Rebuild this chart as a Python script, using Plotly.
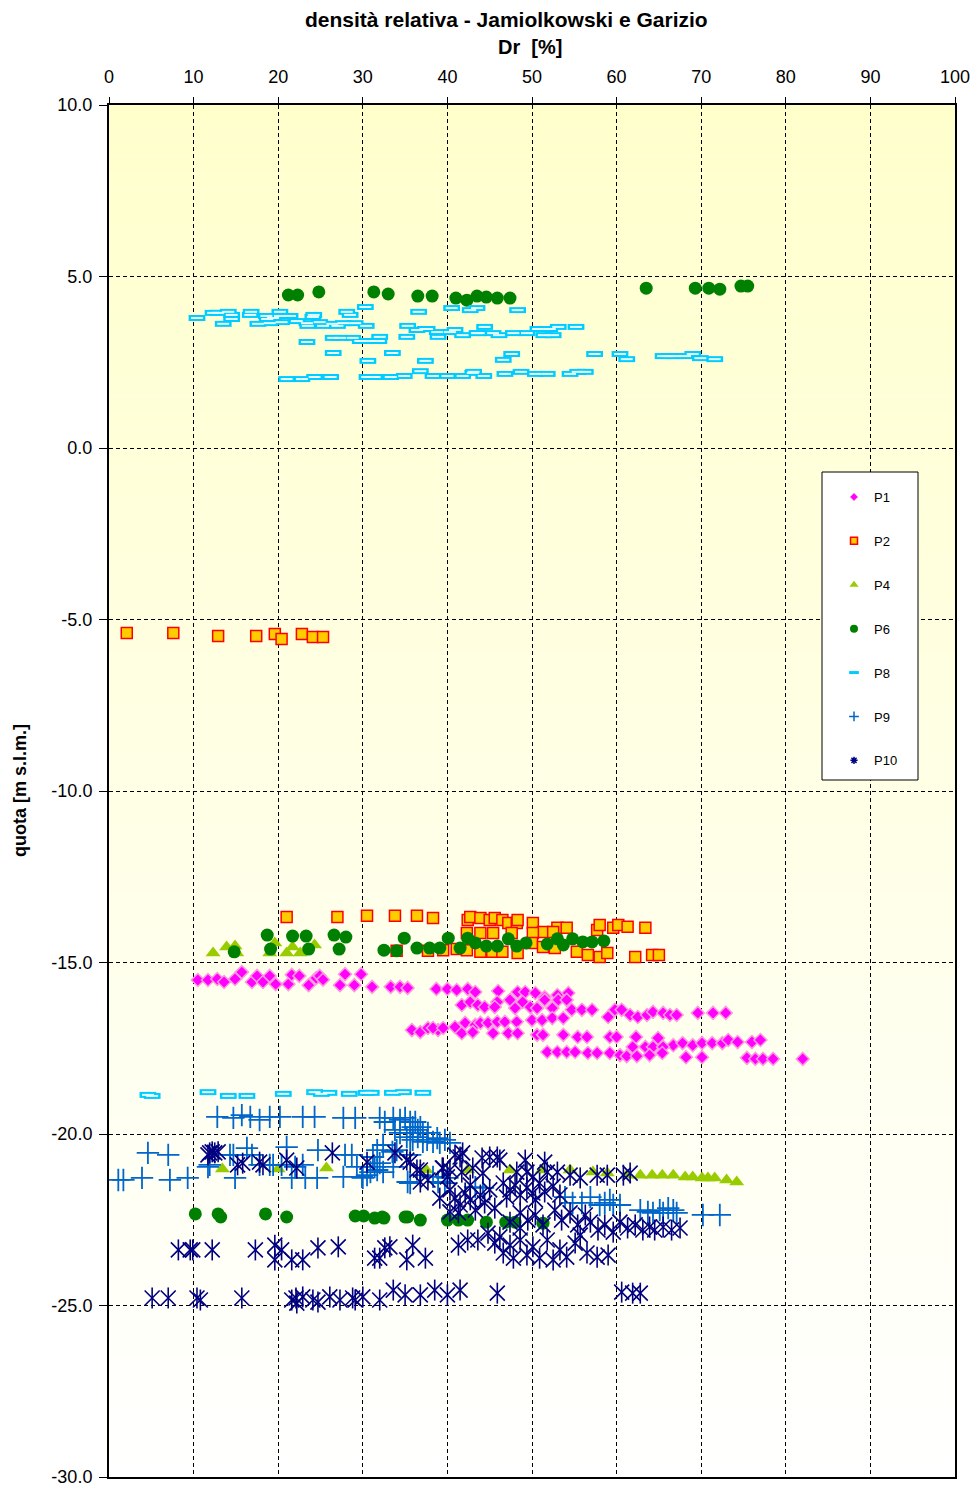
import plotly.graph_objects as go

# ---------------- DATA (Dr [%], quota [m s.l.m.]) ----------------
P1_x = [10.5, 11.7, 12.8, 13.6, 14.9, 15.7, 16.9, 17.5, 18.2, 19.0, 19.7, 21.2, 21.6, 22.5, 23.6, 24.5, 24.9, 25.3,
        27.3, 27.9, 29.0, 29.8, 31.1, 33.3, 34.4, 35.3, 38.7, 40.0, 41.1, 42.4, 43.3, 46.0, 48.3, 49.2, 50.4, 51.5,
        53.0, 54.3,
        41.7, 42.7, 43.6, 44.4, 45.9, 45.6, 47.4, 48.0, 48.9, 49.8, 50.6, 51.5, 52.4, 53.1, 54.1, 54.7, 55.9, 57.1,
        59.0, 59.8, 60.6, 61.6, 62.5, 63.6, 64.3, 65.5, 66.3, 67.1, 69.6, 71.4, 72.9,
        35.8, 36.8, 37.7, 38.9, 38.3, 39.5, 40.9, 42.1, 43.3, 43.9, 44.8, 45.9, 46.8, 48.2, 50.0, 51.2, 52.4, 53.7,
        41.7, 43.0, 45.4, 47.2, 48.3, 50.6, 51.3, 53.7, 55.4, 56.5,
        59.2, 60.0, 62.3, 64.9, 66.7, 67.8, 69.0, 70.1, 71.3, 72.5, 73.2, 74.3, 76.0, 77.0, 61.9, 63.4, 64.3, 65.5,
        51.8, 53.0, 54.1, 55.1, 56.6, 57.7, 59.2, 60.4, 61.2, 62.4, 63.9, 65.4, 68.2, 70.1, 75.4, 76.4, 77.3, 78.5,
        82.0]
P1_y = [-15.51, -15.51, -15.48, -15.57, -15.48, -15.28, -15.57, -15.39, -15.57, -15.39, -15.63, -15.63, -15.36,
        -15.39, -15.66, -15.45, -15.39, -15.50,
        -15.66, -15.34, -15.66, -15.34, -15.71, -15.71, -15.71, -15.74, -15.77, -15.77, -15.80, -15.77, -15.86,
        -15.83, -15.86, -15.86, -15.89, -16.01, -15.95, -15.89,
        -16.24, -16.15, -16.24, -16.30, -16.15, -16.30, -16.09, -16.33, -16.15, -16.30, -16.33, -16.09, -16.33,
        -16.09, -16.09, -16.38, -16.38, -16.38,
        -16.59, -16.38, -16.38, -16.53, -16.59, -16.53, -16.44, -16.47, -16.53, -16.53, -16.47, -16.47, -16.47,
        -16.97, -17.03, -16.91, -16.97, -16.91, -16.91, -16.88, -16.76, -16.82, -16.76, -16.76, -16.73, -16.73,
        -16.73, -16.68, -16.68, -16.62, -16.62,
        -17.06, -17.03, -17.06, -17.06, -17.06, -17.11, -17.11, -17.11, -17.17, -17.17,
        -17.17, -17.17, -17.17, -17.20, -17.41, -17.35, -17.41, -17.35, -17.35, -17.35, -17.26, -17.32, -17.32,
        -17.26, -17.46, -17.46, -17.46, -17.46,
        -17.61, -17.61, -17.61, -17.61, -17.64, -17.64, -17.64, -17.70, -17.73, -17.73, -17.70, -17.64, -17.76,
        -17.76, -17.78, -17.81, -17.81, -17.81, -17.81]

P2_x = [2.1, 7.6, 12.9, 17.4, 19.6, 20.4, 22.8, 24.1, 25.3,
        21.0, 27.0, 30.5, 33.8, 36.4, 38.3, 34.0, 37.7, 39.5, 42.4, 42.7, 43.9, 45.0, 45.6, 46.5, 47.2, 48.2,
        48.3, 50.1, 51.3, 53.0, 54.1, 52.5, 50.1, 47.6, 45.4, 43.9, 42.3, 41.1, 42.3, 43.9, 45.3, 46.5, 48.3,
        50.0, 51.3, 52.7, 55.3, 56.6, 58.0, 58.9, 57.7, 58.0, 59.6, 60.2, 61.3, 63.4, 62.2, 64.2, 65.0]
P2_y = [-5.39, -5.39, -5.48, -5.48, -5.42, -5.57, -5.42, -5.51, -5.51,
        -13.67, -13.67, -13.64, -13.64, -13.64, -13.70, -14.66, -14.66, -14.64, -13.76, -13.67, -13.70, -13.76,
        -13.70, -13.76, -13.85, -13.85, -13.76, -13.85, -14.11, -13.99, -13.99, -14.11, -14.14, -14.14, -14.14,
        -14.14, -14.14, -14.61, -14.64, -14.69, -14.69, -14.69, -14.72, -14.43, -14.55, -14.58, -14.69, -14.78,
        -14.84, -14.72, -14.05, -13.91, -13.99, -13.91, -13.96, -13.99, -14.84, -14.78, -14.78]

P4_x = [12.3, 13.9, 14.9, 15.1, 19.0, 19.6, 21.0, 21.7, 22.6, 24.3,
        13.4, 20.0, 25.7, 37.5, 42.4, 47.4, 51.2, 54.5, 57.2, 58.9, 61.2, 62.8, 64.2, 65.4, 66.7, 68.1, 69.0,
        70.1, 70.8, 71.6, 73.0, 74.2]
P4_y = [-14.72, -14.55, -14.52, -14.72, -14.72, -14.43, -14.72, -14.55, -14.72, -14.49,
        -21.02, -21.02, -20.99, -21.05, -21.05, -21.05, -21.05, -21.05, -21.11, -21.14, -21.20, -21.20, -21.20,
        -21.20, -21.20, -21.25, -21.25, -21.28, -21.28, -21.28, -21.34, -21.40]

P6_x = [21.2, 22.3, 24.8, 31.3, 33.0, 36.5, 38.2, 41.0, 42.3, 43.5, 44.6, 45.9, 47.4, 63.5, 69.3, 70.9, 72.2,
        74.7, 75.5,
        18.7, 19.1, 14.8, 21.7, 23.3, 23.6, 26.6, 28.0, 27.2, 32.5, 34.0, 34.9, 36.4, 37.9, 39.1, 40.1, 41.5,
        42.4, 43.3, 44.6, 45.9, 47.2, 48.2, 49.3, 51.8, 53.0, 53.7, 54.8, 56.0, 57.1, 58.5,
        10.2, 12.9, 13.2, 18.5, 21.0, 29.1, 30.1, 31.4, 32.3, 32.5, 35.0, 35.3, 36.8, 40.0, 41.3, 42.4, 44.6,
        46.9, 48.0, 51.3]
P6_y = [4.46, 4.46, 4.55, 4.55, 4.49, 4.43, 4.43, 4.37, 4.31, 4.43, 4.40, 4.37, 4.37, 4.66, 4.66, 4.66, 4.63,
        4.72, 4.72,
        -14.20, -14.61, -14.69, -14.23, -14.23, -14.61, -14.20, -14.26, -14.61, -14.64, -14.66, -14.29, -14.58,
        -14.58, -14.58, -14.29, -14.58, -14.29, -14.43, -14.52, -14.52, -14.31, -14.52, -14.43, -14.46, -14.31,
        -14.49, -14.31, -14.40, -14.40, -14.37,
        -22.33, -22.33, -22.42, -22.33, -22.42, -22.39, -22.39, -22.45, -22.42, -22.45, -22.42, -22.42, -22.51,
        -22.51, -22.51, -22.51, -22.57, -22.57, -22.57, -22.60]

P8_x = [10.4, 12.3, 12.9, 14.1, 14.5, 14.5, 13.5, 16.8, 16.7, 17.6, 18.6, 18.7, 19.0, 19.4, 20.2, 20.2, 20.4,
        21.4, 22.2, 23.4, 23.5, 24.2, 24.1, 24.9, 25.3, 26.4, 27.0, 26.5, 27.3, 28.1, 28.5, 27.7, 29.1, 30.3,
        30.4, 23.4, 26.5, 28.8, 29.7, 30.6, 32.0, 31.9, 30.6, 33.5, 35.2, 35.3, 36.6, 36.4, 37.4, 36.8, 21.0,
        22.8, 24.3, 26.2, 30.5, 31.4, 33.3, 34.9,
        40.5, 42.7, 43.5, 41.8, 43.5, 37.6, 38.8, 40.3, 38.9, 37.4, 38.3, 40.0, 41.8, 43.0,
        48.3, 40.9, 43.7, 44.4, 45.4, 46.1, 47.8, 49.4, 50.7, 51.4, 52.1, 52.5, 53.1, 55.2, 47.6, 46.6, 57.4,
        60.4, 61.2, 65.5, 66.2, 66.9, 68.1, 69.0, 69.9, 71.6, 43.1, 44.3, 46.8, 48.7, 50.4, 51.8, 54.5, 55.4,
        56.3,
        4.6, 5.1, 11.7, 14.1, 16.3, 20.6, 24.3, 25.1, 26.0, 28.4, 30.4, 31.0, 33.5, 34.8, 37.1]
P8_y = [3.79, 3.94, 3.94, 3.97, 3.88, 3.76, 3.62, 3.97, 3.88, 3.62, 3.85, 3.76, 3.64, 3.79, 3.97, 3.85, 3.67,
        3.85, 3.70, 3.64, 3.56, 3.88, 3.82, 3.67, 3.56, 3.62, 3.56, 3.21, 3.21, 3.97, 3.88, 3.64, 3.64, 4.11,
        3.56, 3.09, 2.77, 3.21, 3.12, 3.12, 3.24, 3.12, 2.54, 2.77, 3.24, 3.56, 3.97, 3.44, 3.47, 2.24, 2.01,
        2.01, 2.07, 2.07, 2.07, 2.07, 2.07, 2.10,
        4.08, 4.02, 4.08, 3.29, 3.35, 3.47, 3.38, 3.38, 3.24, 2.54, 2.10, 2.10, 2.10, 2.19,
        4.02, 3.44, 3.35, 3.53, 3.35, 3.29, 3.35, 3.35, 3.47, 3.29, 3.47, 3.29, 3.53, 3.53, 2.74, 2.57, 2.74,
        2.74, 2.59, 2.68, 2.68, 2.68, 2.68, 2.74, 2.62, 2.59, 2.22, 2.10, 2.16, 2.22, 2.16, 2.16, 2.16, 2.22,
        2.22,
        -18.86, -18.89, -18.78, -18.89, -18.89, -18.83, -18.78, -18.83, -18.80, -18.83, -18.80, -18.80, -18.80,
        -18.78, -18.80]

P9_x = [12.8, 14.7, 15.7, 16.7, 17.8, 19.0, 20.2, 22.9, 24.3, 27.7, 29.1, 32.0, 32.6, 33.6, 34.4,
        35.0, 35.6, 35.9, 36.2, 36.5, 36.8, 37.1, 35.6, 35.2, 36.5, 37.6, 38.3, 39.1, 40.3, 39.7, 38.8, 34.4,
        33.8, 37.7, 35.9, 37.1,
        4.6, 7.0, 1.1, 1.7, 3.9, 7.2, 9.3, 11.7, 14.3, 16.3, 16.9, 17.8, 19.0, 14.9, 21.0, 20.4, 22.0, 23.2,
        24.7, 24.6, 27.7, 27.9, 28.7, 29.3, 30.5, 31.2, 32.0, 32.4, 33.5, 34.0, 35.6, 35.3, 36.8, 38.3, 40.0,
        31.4, 29.9, 22.9, 21.6, 19.4, 11.9, 14.7, 31.7, 33.6, 30.0, 31.7, 32.4, 30.9,
        35.6, 38.9, 39.7, 43.3, 44.2, 54.8, 55.9, 56.9, 58.0, 58.6, 59.6, 60.4, 62.8, 63.7, 64.3, 65.5, 66.7,
        67.1, 70.2, 72.2, 53.9, 59.2, 65.1, 66.1]
P9_y = [-19.50, -19.53, -19.45, -19.50, -19.59, -19.50, -19.50, -19.50, -19.50, -19.53, -19.53, -19.53, -19.65,
        -19.53, -19.59,
        -19.53, -19.65, -19.80, -19.65, -19.88, -19.80, -19.97, -19.97, -20.09, -20.09, -20.17, -20.23, -20.26,
        -20.26, -20.17, -20.12, -19.97, -19.88, -19.97, -20.17, -20.23,
        -20.55, -20.61, -21.34, -21.34, -21.28, -21.34, -21.28, -20.96, -20.61, -20.41, -20.61, -20.90, -20.90,
        -21.28, -20.38, -20.90, -20.96, -21.28, -20.47, -21.28, -21.25, -20.61, -20.61, -20.96, -21.20, -20.67,
        -20.85, -20.32, -20.52, -20.47, -20.61, -21.40, -21.20, -21.25, -21.28, -20.96, -21.25, -20.90, -21.28,
        -20.90, -20.90, -20.61, -20.47, -20.96, -21.28, -21.05, -21.11, -21.11,
        -21.43, -21.40, -21.43, -21.55, -21.57, -22.01, -22.01, -21.84, -22.07, -22.01, -22.07, -22.07, -22.22,
        -22.27, -22.30, -22.30, -22.22, -22.30, -22.36, -22.36, -21.84, -21.92, -22.22, -22.16]

P10_x = [11.9, 12.2, 12.5, 11.7, 12.9, 15.2, 15.8, 17.8, 18.2, 21.0, 22.2, 26.4, 30.5, 33.8, 35.6, 36.8, 37.7,
         39.5, 40.3, 40.9, 35.2, 36.4, 36.8, 39.4, 40.0, 41.5, 41.8, 44.1, 45.0, 45.9, 46.2, 41.7, 43.0, 44.2,
         48.2, 49.4, 50.1, 51.8, 53.0, 54.5, 55.7, 57.7, 58.9, 60.8, 61.6, 49.2, 51.5,
         40.3, 40.9, 41.5, 42.1, 42.7, 43.3, 43.9, 44.4, 45.0, 45.6, 40.3, 39.1, 41.3, 42.7,
         46.6, 47.4, 48.0, 48.6, 49.4, 50.1, 50.9, 51.5, 52.5, 47.0, 50.4, 53.3,
         48.6, 49.5, 50.4, 51.3, 47.4, 52.7, 53.5, 54.5, 55.4, 56.3,
         56.9, 57.8, 58.6, 59.6, 60.4, 61.3, 62.2, 63.1, 63.9, 64.5, 65.5, 66.5, 67.5,
         45.6, 46.2, 46.6, 47.4, 47.8, 48.6, 49.4, 50.1, 50.9, 51.8, 52.5, 53.3, 54.1, 55.1, 56.5, 57.7, 59.0,
         55.7, 48.6, 44.8, 43.6,
         8.2, 9.6, 9.9, 12.2, 17.3, 19.6, 20.4, 19.6, 21.6, 22.9, 24.7, 27.1, 31.4, 32.0, 32.6, 33.2, 35.9,
         35.2, 37.4, 41.3, 42.4,
         5.1, 7.0, 10.4, 10.8, 15.7, 21.6, 22.2, 22.9, 24.1, 24.7, 26.1, 27.3, 28.8, 30.0, 32.0, 33.6, 35.0,
         36.8, 38.5, 40.0, 41.5, 45.9, 60.6, 61.9, 62.8, 22.1, 29.1]
P10_y = [-20.55, -20.52, -20.55, -20.61, -20.52, -20.90, -20.85, -20.82, -20.90, -20.76, -20.99, -20.55, -20.82,
         -20.55, -20.82, -21.05, -21.34, -20.99, -21.05, -20.61, -20.76, -21.05, -21.40, -20.99, -21.25, -20.67,
         -20.55, -20.70, -20.67, -20.67, -20.76, -21.11, -20.99, -21.14, -21.11, -21.11, -21.25, -21.11, -21.11,
         -21.20, -21.28, -21.20, -21.20, -21.20, -21.14, -20.76, -20.82,
         -21.63, -21.87, -22.07, -21.72, -21.92, -22.22, -21.78, -22.01, -21.63, -22.16, -22.27, -21.87, -22.30,
         -21.49,
         -21.43, -21.63, -21.49, -21.78, -21.57, -21.72, -21.43, -21.69, -21.52, -21.84, -21.92, -21.78,
         -22.30, -22.51, -22.36, -22.65, -22.57, -22.22, -22.51, -22.30, -22.65, -22.36,
         -22.57, -22.80, -22.65, -22.86, -22.57, -22.74, -22.65, -22.80, -22.71, -22.80, -22.71, -22.80, -22.74,
         -23.18, -23.00, -23.47, -23.24, -23.62, -23.09, -23.53, -23.29, -23.62, -23.09, -23.67, -23.38, -23.59,
         -23.18, -23.47, -23.59, -23.53, -22.95, -22.74, -22.89, -23.09,
         -23.38, -23.38, -23.38, -23.38, -23.38, -23.24, -23.38, -23.67, -23.67, -23.67, -23.32, -23.29, -23.62,
         -23.62, -23.32, -23.29, -23.24, -23.67, -23.62, -23.24, -23.09,
         -24.78, -24.78, -24.78, -24.84, -24.78, -24.84, -24.93, -24.75, -24.84, -24.90, -24.75, -24.84, -24.78,
         -24.75, -24.84, -24.55, -24.69, -24.69, -24.55, -24.69, -24.55, -24.64, -24.61, -24.64, -24.64, -24.78,
         -24.84]

X_RANGE = [0, 100]
Y_RANGE = [-30, 10]
X_TICKS = list(range(0, 101, 10))
Y_TICKS = list(range(-30, 11, 5))
Y_TICK_LABELS = ["-30.0", "-25.0", "-20.0", "-15.0", "-10.0", "-5.0", "0.0", "5.0", "10.0"]

TITLE = "densità relativa - Jamiolkowski e Garizio"
X_TITLE = "Dr  [%]"
Y_TITLE = "quota [m s.l.m.]"

FONT = "Liberation Sans, Arial, sans-serif"

fig = go.Figure()

# gradient background bands (below gridlines)
n_bands = 80
for i in range(n_bands):
    y0 = Y_RANGE[0] + (Y_RANGE[1] - Y_RANGE[0]) * i / n_bands
    y1 = Y_RANGE[0] + (Y_RANGE[1] - Y_RANGE[0]) * (i + 1) / n_bands
    t = (i + 0.5) / n_bands
    b = int(round(255 - 51 * t))
    fig.add_shape(type="rect", xref="x", yref="y", x0=X_RANGE[0], x1=X_RANGE[1], y0=y0, y1=y1,
                  fillcolor=f"rgb(255,255,{b})", line=dict(width=0), layer="below")

# data traces
fig.add_trace(go.Scatter(x=P1_x, y=P1_y, mode="markers", name="P1", showlegend=False,
                         marker=dict(symbol="diamond", size=10, color="#FF00FF",
                                     line=dict(color="#FF99DD", width=1.5))))
fig.add_trace(go.Scatter(x=P2_x, y=P2_y, mode="markers", name="P2", showlegend=False,
                         marker=dict(symbol="square", size=11, color="#FFCC00",
                                     line=dict(color="#FF0000", width=1.5))))
fig.add_trace(go.Scatter(x=P4_x, y=P4_y, mode="markers", name="P4", showlegend=False,
                         marker=dict(symbol="triangle-up", size=13, color="#99CC00",
                                     line=dict(width=0))))
fig.add_trace(go.Scatter(x=P6_x, y=P6_y, mode="markers", name="P6", showlegend=False,
                         marker=dict(symbol="circle", size=13, color="#008000", line=dict(width=0))))
fig.add_trace(go.Scatter(x=P8_x, y=P8_y, mode="markers", name="P8", showlegend=False,
                         marker=dict(symbol="line-ew-open", size=12, color="#00CCFF",
                                     line=dict(width=6))))
fig.add_trace(go.Scatter(x=P8_x, y=P8_y, mode="markers", name="P8", showlegend=False, hoverinfo="skip",
                         marker=dict(symbol="line-ew-open", size=8.5, color="#E8FCFF",
                                     line=dict(width=2))))
fig.add_trace(go.Scatter(x=P9_x, y=P9_y, mode="markers", name="P9", showlegend=False,
                         marker=dict(symbol="cross-thin-open", size=16, color="#0066CC",
                                     line=dict(width=1.8))))
fig.add_trace(go.Scatter(x=P10_x, y=P10_y, mode="markers", name="P10", showlegend=False,
                         marker=dict(symbol="x-thin-open", size=15, color="#000080",
                                     line=dict(width=1.6))))
fig.add_trace(go.Scatter(x=P10_x, y=P10_y, mode="markers", name="P10", showlegend=False, hoverinfo="skip",
                         marker=dict(symbol="line-ns-open", size=15, color="#000080",
                                     line=dict(width=1.6))))

# legend-only entries (small symbols like the original)
legend_defs = [
    ("P1", dict(symbol="diamond", size=6, color="#FF00FF", line=dict(color="#FF99DD", width=1))),
    ("P2", dict(symbol="square", size=7, color="#FFCC00", line=dict(color="#FF0000", width=1.5))),
    ("P4", dict(symbol="triangle-up", size=8, color="#99CC00", line=dict(width=0))),
    ("P6", dict(symbol="circle", size=8, color="#008000", line=dict(width=0))),
    ("P8", dict(symbol="line-ew-open", size=7, color="#00CCFF", line=dict(width=3))),
    ("P9", dict(symbol="cross-thin-open", size=7, color="#0066CC", line=dict(width=1.5))),
    ("P10", dict(symbol="asterisk-open", size=6, color="#000080", line=dict(width=1.5))),
]
for name, mk in legend_defs:
    fig.add_trace(go.Scatter(x=[None], y=[None], mode="markers", name=name, legendgroup=name,
                             marker=mk, showlegend=True))

# legend frame
W_PLOT = 979 - 109 - 24
H_PLOT = 1490 - 105 - 13
fig.add_shape(type="rect", xref="paper", yref="paper",
              x0=(822 - 109) / W_PLOT, x1=(918 - 109) / W_PLOT,
              y0=(1477 - 780) / H_PLOT, y1=(1477 - 472) / H_PLOT,
              fillcolor="white", line=dict(color="black", width=1), layer="above")

fig.update_layout(
    width=979, height=1490,
    margin=dict(l=109, r=24, t=105, b=13, autoexpand=False),
    paper_bgcolor="white", plot_bgcolor="white",
    font=dict(family=FONT, color="black"),
    showlegend=True,
    legend=dict(x=(834 - 109) / W_PLOT, y=(1477 - 482) / H_PLOT, xanchor="left", yanchor="top",
                bgcolor="rgba(0,0,0,0)", borderwidth=0, font=dict(size=13, family=FONT),
                tracegroupgap=24, itemsizing="trace"),
    xaxis=dict(range=X_RANGE, side="top", tickvals=X_TICKS, ticks="outside", ticklen=6,
               tickcolor="black", tickfont=dict(size=18), ticklabelstandoff=7, automargin=False,
               showgrid=True, gridcolor="black",
               griddash="4px,3px", gridwidth=1.4, showline=True, linecolor="black", linewidth=2,
               mirror=True, zeroline=False, fixedrange=True),
    yaxis=dict(range=Y_RANGE, tickvals=Y_TICKS, ticktext=Y_TICK_LABELS, ticks="outside", ticklen=8,
               tickcolor="black", tickfont=dict(size=18), ticklabelstandoff=3, automargin=False,
               showgrid=True, gridcolor="black",
               griddash="4px,3px", gridwidth=1.4, showline=True, linecolor="black", linewidth=2,
               mirror=True, zeroline=False, fixedrange=True),
    annotations=[
        dict(text="<b>" + TITLE + "</b>", xref="paper", yref="paper", x=(506 - 109) / W_PLOT,
             y=1 + (105 - 20) / H_PLOT, xanchor="center", yanchor="middle", showarrow=False,
             font=dict(size=21, family=FONT)),
        dict(text="<b>" + X_TITLE + "</b>", xref="paper", yref="paper", x=(530 - 109) / W_PLOT,
             y=1 + (105 - 47) / H_PLOT, xanchor="center", yanchor="middle", showarrow=False,
             font=dict(size=20, family=FONT)),
        dict(text="<b>" + Y_TITLE + "</b>", xref="paper", yref="paper", x=(20 - 109) / W_PLOT,
             y=(1477 - 791) / H_PLOT, xanchor="center", yanchor="middle", showarrow=False, textangle=-90,
             font=dict(size=18, family=FONT)),
    ],
)

fig.write_html("out.html")
